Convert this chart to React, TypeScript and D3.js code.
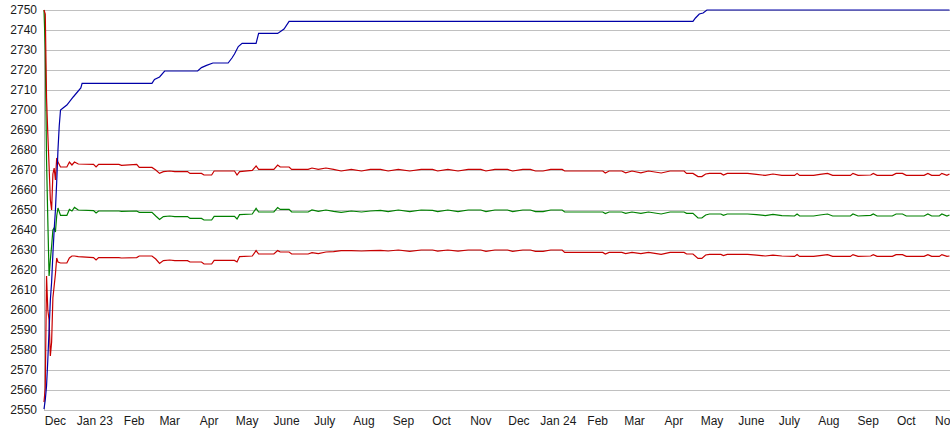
import React from "react";
import * as d3 from "d3";

// ---- data ----
const bandDates = [
  "2022-11-22","2022-11-23","2022-11-24","2022-11-25","2022-11-26","2022-11-27","2022-11-28","2022-11-29","2022-11-30",
  "2022-12-01","2022-12-02","2022-12-03","2022-12-05","2022-12-10","2022-12-12","2022-12-14","2022-12-16","2022-12-19",
  "2022-12-31","2023-01-02","2023-01-04","2023-01-20","2023-01-22","2023-02-03","2023-02-05","2023-02-15","2023-02-18",
  "2023-02-21","2023-02-24","2023-03-01","2023-03-05","2023-03-15","2023-03-17","2023-03-26","2023-03-28","2023-04-03",
  "2023-04-05","2023-04-21","2023-04-23","2023-04-25","2023-05-05","2023-05-08","2023-05-10","2023-05-22","2023-05-25",
  "2023-05-27","2023-06-03","2023-06-05","2023-06-18","2023-06-21","2023-06-26","2023-07-02","2023-07-08","2023-07-14",
  "2023-07-22","2023-07-30","2023-08-06","2023-08-14","2023-08-20","2023-08-28","2023-09-06","2023-09-15","2023-09-24",
  "2023-09-28","2023-10-06","2023-10-14","2023-10-22","2023-11-01","2023-11-05","2023-11-12","2023-11-22","2023-11-26",
  "2023-12-04","2023-12-10","2023-12-14","2023-12-20","2023-12-26","2024-01-04","2024-01-06","2024-02-05","2024-02-07",
  "2024-02-10","2024-02-20","2024-02-23","2024-02-28","2024-03-06","2024-03-12","2024-03-22","2024-03-29","2024-04-09",
  "2024-04-11","2024-04-16","2024-04-20","2024-04-23","2024-04-26","2024-04-29","2024-05-08","2024-05-10","2024-05-13",
  "2024-05-29","2024-06-05","2024-06-12","2024-06-18","2024-06-25","2024-07-05","2024-07-07","2024-07-09","2024-07-20",
  "2024-07-25","2024-07-31","2024-08-04","2024-08-18","2024-08-20","2024-08-24","2024-09-03","2024-09-05","2024-09-08",
  "2024-09-20","2024-09-23","2024-09-28","2024-10-01","2024-10-15","2024-10-18","2024-10-21","2024-10-27","2024-10-29",
  "2024-11-02","2024-11-04"
];

const upperValues = [
  2750,2748,2706,2688,2672,2655,2650,2668,2671,
  2665,2676,2674,2671.5,2671.5,2674,2672.5,2674,2673,
  2672.8,2671.5,2672.8,2672.8,2672.3,2672.8,2671.3,2671.3,2670,
  2668.3,2669.2,2669.5,2669.2,2669.2,2668.3,2668.3,2667.5,2667.5,
  2669.5,2669.5,2667.5,2669.2,2669.8,2672,2670.3,2670.3,2672.5,
  2671.5,2671.5,2670.3,2670.3,2671,2670.3,2671,2670.3,2669.5,
  2670.3,2669.5,2670.3,2670.3,2669.5,2670.3,2669.5,2670.3,2670.3,
  2669.5,2670.3,2669.5,2670.3,2670.3,2669.5,2670.3,2670.3,2669.5,
  2670.3,2670.3,2669.5,2669.5,2670.3,2670.3,2669.5,2669.5,2668.5,
  2669.5,2669.5,2668.6,2669.5,2668.6,2669.5,2668.5,2669.5,2669.5,
  2668.3,2668.3,2666.7,2666.7,2668,2668.3,2668.3,2667.5,2668.3,
  2668.3,2667.8,2667.3,2668,2667.3,2667.3,2668.3,2667.3,2667.3,
  2667.8,2668.3,2667.3,2667.3,2668.3,2667.3,2667.5,2668.3,2667.3,
  2667.3,2668.3,2668.3,2667.3,2667.3,2668.3,2667.3,2667.3,2668.3,
  2667.3,2668
];

const midValues = [
  2750,2730,2675,2645,2617,2625,2632,2640,2641,
  2639,2647,2651,2647.3,2647.3,2650.3,2649.5,2651.3,2650,
  2649.7,2648.5,2649.5,2649.5,2649.3,2649.5,2648.8,2648.8,2647,
  2645.3,2646.7,2647,2646.7,2646.7,2645.8,2645.8,2645,2645,
  2646.8,2646.8,2645.5,2647.7,2648,2650.8,2649,2649,2651.2,
  2650.3,2650.3,2649,2649,2650,2649.3,2650,2649.3,2648.8,
  2649.5,2649,2649.5,2649.8,2649.2,2650,2649.2,2650,2649.8,
  2649.2,2650,2649.2,2650,2650,2649.2,2650,2650,2649.2,
  2650,2650,2649.2,2649.2,2650,2650,2649,2649,2648.2,
  2649,2649,2648.3,2649,2648.3,2649,2648,2649,2649,
  2648.3,2648.3,2646,2646,2647.5,2648,2648,2647.3,2648,
  2648,2647.7,2647.2,2647.8,2647.2,2647,2648,2647,2647,
  2647.5,2648,2647,2647,2648,2647,2647.3,2648,2647,
  2647,2648,2648,2647,2647,2648,2647,2647,2648,
  2647,2647.5
];

const lowerValues = [
  2554,2561,2617,2600,2595,2577,2584,2606,2612,
  2618,2626,2624,2623.5,2623.5,2626,2627,2627,2626.7,
  2626.2,2625,2626.2,2626.2,2626,2626.2,2627,2627,2625.5,
  2623.3,2624.7,2625,2624.7,2624.7,2624,2624,2623,2623,
  2624.8,2624.8,2624,2626.7,2627,2629.7,2628,2628,2629.7,
  2629,2629,2628,2628,2628.7,2628.2,2629,2629.2,2629.7,
  2629.7,2629.5,2629.7,2629.8,2629.5,2630,2629.3,2630,2630,
  2629.4,2630,2629.4,2630,2630,2629.3,2630,2630,2629.3,
  2630,2630,2629.3,2629.3,2630,2630,2628.8,2628.8,2628,
  2628.8,2628.8,2628.2,2628.8,2628.2,2628.8,2627.8,2628.8,2628.8,
  2628,2628,2625.8,2625.8,2627.5,2627.8,2627.8,2627.2,2627.8,
  2627.8,2627.4,2627,2627.4,2627,2626.8,2627.7,2626.8,2626.8,
  2627.2,2627.7,2626.8,2626.8,2627.7,2626.8,2627,2627.7,2626.8,
  2626.8,2627.7,2627.7,2626.8,2626.8,2627.7,2626.8,2626.8,2627.7,
  2626.8,2627
];

const peakDates = [
  "2022-11-22","2022-11-23","2022-11-24","2022-11-25","2022-11-26","2022-11-27","2022-11-28","2022-11-29","2022-11-30",
  "2022-12-01","2022-12-02","2022-12-03","2022-12-04","2022-12-05","2022-12-07","2022-12-10","2022-12-15","2022-12-21",
  "2022-12-22","2023-02-15","2023-02-17","2023-02-21","2023-02-25","2023-03-23","2023-03-26","2023-03-30","2023-04-04",
  "2023-04-16","2023-04-19","2023-04-21","2023-04-24","2023-04-27","2023-05-08","2023-05-10","2023-05-25","2023-05-30",
  "2023-06-03","2024-04-16","2024-04-18","2024-04-21","2024-04-24","2024-04-27","2024-11-04"
];
const peakValues = [
  2550.5,2555,2562,2575,2590,2605,2614,2628,2640,
  2650,2664,2680,2692,2700,2701,2702.5,2706.5,2711,
  2713.3,2713.3,2715.3,2716.5,2719.5,2719.5,2721.2,2722.3,2723.5,
  2723.5,2726,2728,2731.7,2733.3,2733.3,2738.3,2738.3,2740.5,
  2744.3,2744.3,2746,2748,2748.5,2750,2750
];

const yTicks = d3.range(2550, 2751, 10);
const xTickLabels = [
  "Dec","Jan 23","Feb","Mar","Apr","May","June","July","Aug","Sep","Oct","Nov",
  "Dec","Jan 24","Feb","Mar","Apr","May","June","July","Aug","Sep","Oct","Nov"
];

// ---- chart ----
const W = 950, H = 435;
const FONT = "'Liberation Sans', Arial, sans-serif";

export default function App() {
  const parse = d3.timeParse("%Y-%m-%d");
  const x = d3.scaleTime()
    .domain([new Date(2022, 10, 22), new Date(2024, 10, 4, 10)])
    .range([44, 950]);
  const y = d3.scaleLinear().domain([2550, 2750]).range([410, 10]);

  const band = bandDates.map((d) => parse(d) as Date);
  const peak = peakDates.map((d) => parse(d) as Date);

  const line = d3.line<[Date, number]>().x((d) => x(d[0])).y((d) => y(d[1]));
  const mk = (dates: Date[], vals: number[]) =>
    line(dates.map((d, i) => [d, vals[i]] as [Date, number])) || "";

  const months = d3.timeMonth.range(new Date(2022, 11, 1), new Date(2024, 10, 2));

  return (
    <svg
      width={W}
      height={H}
      style={{ position: "absolute", left: 0, top: 0, background: "#fff", display: "block" }}
    >
      <rect x={0} y={0} width={W} height={H} fill="#fff" />
      {yTicks.map((t) => (
        <line key={t} x1={44} x2={W} y1={y(t)} y2={y(t)} stroke="#c0c0c0" strokeWidth={1} shapeRendering="crispEdges" />
      ))}
      <line x1={44} x2={44} y1={y(2750)} y2={y(2550)} stroke="#b0b0b0" strokeWidth={1} shapeRendering="crispEdges" />
      {yTicks.map((t) => (
        <text key={"l" + t} x={37} y={y(t)} dy="0.36em" textAnchor="end" fontFamily={FONT} fontSize={12} fill="#1a1a1a">
          {t}
        </text>
      ))}
      {months.map((m, i) => (
        <text key={"m" + i} x={x(m)} y={424.5} textAnchor="middle" fontFamily={FONT} fontSize={12} fill="#1a1a1a">
          {xTickLabels[i]}
        </text>
      ))}
      <g fill="none" strokeWidth={1.2} strokeLinejoin="miter">
        <path d={mk(band, midValues)} stroke="#008000" />
        <path d={mk(band, upperValues)} stroke="#c80000" />
        <path d={mk(band, lowerValues)} stroke="#c80000" />
        <path d={mk(peak, peakValues)} stroke="#0000a8" />
      </g>
    </svg>
  );
}
